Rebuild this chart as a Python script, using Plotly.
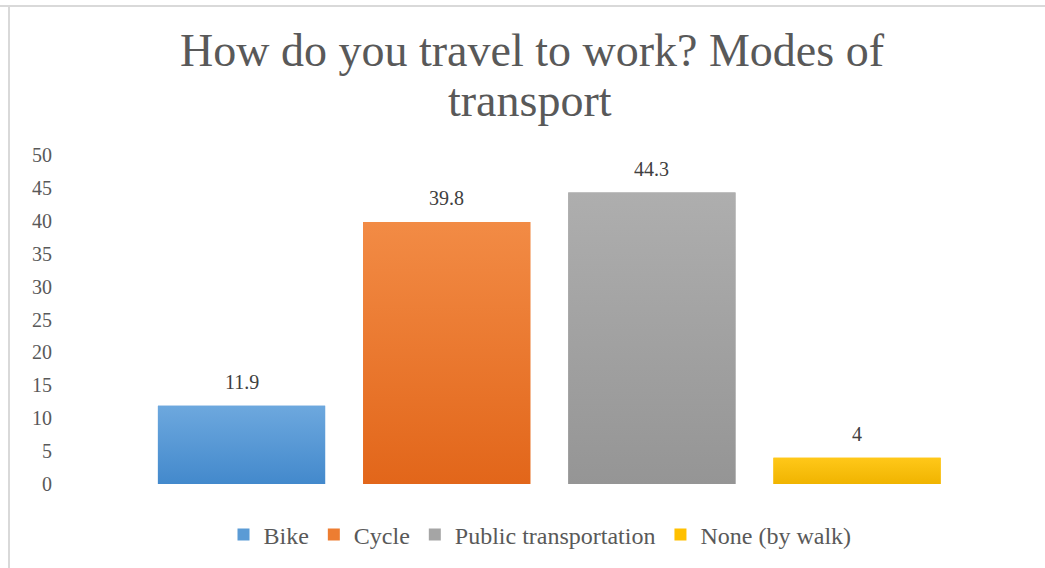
import plotly.graph_objects as go

# Survey results: share of respondents by mode of transport (%)
modes = ["Bike", "Cycle", "Public transportation", "None (by walk)"]
shares = [11.9, 39.8, 44.3, 4]
# (top, bottom) colours of each bar's vertical gradient
tops = ["#6da8de", "#f28b45", "#aeaeae", "#ffc819"]
bottoms = ["#4389cc", "#e2661a", "#959595", "#f0b400"]
solid = ["#5b9bd5", "#ed7d31", "#a5a5a5", "#ffc000"]
y_ticks = [0, 5, 10, 15, 20, 25, 30, 35, 40, 45, 50]

W, H = 1045, 568
L, R, T, B = 62, 15, 155, 84
BAR_W = 0.815
SERIF = "Liberation Serif, Times New Roman, serif"
TEXT = "#595959"

fig = go.Figure()
for i, (name, val) in enumerate(zip(modes, shares)):
    # legend entry + base bar
    fig.add_trace(go.Bar(
        x=[i], y=[val], name=name,
        marker=dict(color=solid[i], line=dict(width=0)),
        width=BAR_W, hoverinfo="name+y",
    ))
for i, val in enumerate(shares):
    # gradient fill over the bar body
    x0, x1 = i - BAR_W / 2, i + BAR_W / 2
    fig.add_trace(go.Scatter(
        x=[x0, x1, x1, x0, x0], y=[0, 0, val, val, 0],
        mode="lines", line=dict(width=0), fill="toself",
        fillgradient=dict(type="vertical",
                          colorscale=[[0, bottoms[i]], [1, tops[i]]]),
        showlegend=False, hoverinfo="skip",
    ))
    fig.add_annotation(
        x=i, y=val, text=f"{val:g}", showarrow=False,
        yanchor="middle", yshift=24,
        font=dict(family=SERIF, size=20, color="#404040"),
    )

# frame lines around the chart area (top and left edges)
pw = W - L - R
ph = H - T - B
def px_x(p):
    return (p - L) / pw
def px_y(p):
    return (H - B - p) / ph

fig.add_shape(type="line", xref="paper", yref="paper",
              x0=px_x(0), x1=px_x(W), y0=px_y(6), y1=px_y(6),
              line=dict(color="#d9d9d9", width=2))
fig.add_shape(type="line", xref="paper", yref="paper",
              x0=px_x(9), x1=px_x(9), y0=px_y(6), y1=px_y(H),
              line=dict(color="#d9d9d9", width=2))

fig.update_layout(
    width=W, height=H,
    margin=dict(l=L, r=R, t=T, b=B, autoexpand=False),
    paper_bgcolor="white", plot_bgcolor="white",
    title=dict(text="How do you travel to work? Modes of",
               xref="container", x=532 / W, xanchor="center",
               y=1 - 50 / H, yanchor="middle",
               font=dict(family=SERIF, size=46, color=TEXT)),
    barmode="overlay",
    showlegend=True,
    legend=dict(orientation="h", x=px_x(540), xanchor="center",
                y=-(535 - (H - B)) / ph, yanchor="middle",
                font=dict(family=SERIF, size=24, color=TEXT),
                itemwidth=30, traceorder="normal"),
    xaxis=dict(range=[-0.875, 3.843], showticklabels=False, showgrid=False,
               zeroline=False, showline=False, ticks=""),
    yaxis=dict(range=[0, 50], tickvals=y_ticks, showgrid=False, zeroline=False,
               showline=False, ticks="outside", ticklen=5,
               tickcolor="rgba(0,0,0,0)",
               tickfont=dict(family=SERIF, size=20, color=TEXT)),
)
fig.add_annotation(
    xref="paper", yref="paper", x=px_x(530), y=px_y(100),
    text="transport", showarrow=False, xanchor="center", yanchor="middle",
    font=dict(family=SERIF, size=46, color=TEXT),
)

fig.write_html("out.html")
